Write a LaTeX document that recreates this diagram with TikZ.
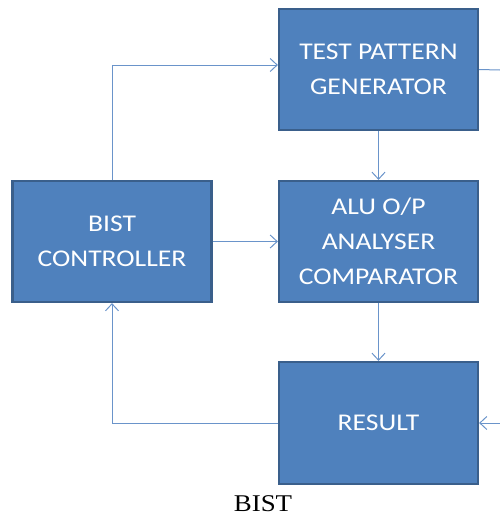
\documentclass[tikz,border=0pt]{standalone}
\usepackage{fontspec}
\usetikzlibrary{arrows.meta}
\newfontfamily\blockfont[FakeStretch=1.15]{Carlito}
\newfontfamily\capfont[FakeStretch=1.12]{Liberation Serif}
\definecolor{blockfill}{HTML}{4F81BD}
\definecolor{blockline}{HTML}{3A5F8B}
\definecolor{linkline}{HTML}{6A94CA}

\begin{document}
\begin{tikzpicture}[x=1pt, y=-1pt,
		block/.style={draw=blockline, fill=blockfill, line width=2.2pt, minimum width=199pt, minimum height=121pt, text=white, align=center, font=\blockfont\fontsize{24}{35}\selectfont},
		link/.style={draw=linkline, line width=1pt},
		arr/.style={link, -{Straight Barb[length=7pt, width=13pt]}}]
					\useasboundingbox (0,0) rectangle (500,517);
					
					\node[block] (tpg) at (378.5,69.5) {TEST PATTERN\\GENERATOR};
					\node[block] (alu) at (378.5,241.5) {ALU O/P\\ANALYSER\\COMPARATOR};
					\node[block] (ctrl) at (112,241.5) {BIST\\CONTROLLER};
					\node[block, minimum height=122pt] (res) at (378.5,423) {RESULT};
					
					\coordinate (tpgout) at (500,70);
					\coordinate (resin) at (500,423);
					
					\draw[arr] (ctrl.north) |- ([yshift=4.5pt]tpg.west);
					\draw[arr] (tpg.south) -- (alu.north);
					\draw[arr] (ctrl.east) -- (alu.west);
					\draw[arr] (alu.south) -- (res.north);
					\draw[arr] (res.west) -| (ctrl.south);
					\draw[link] (tpg.east) -- (tpgout);
					\draw[arr] (resin) -- (res.east);
					
					\node[anchor=base, inner sep=0pt, font=\capfont\fontsize{24}{30}\selectfont] (cap) at (263,511) {BIST};
				\end{tikzpicture}
\end{document}
